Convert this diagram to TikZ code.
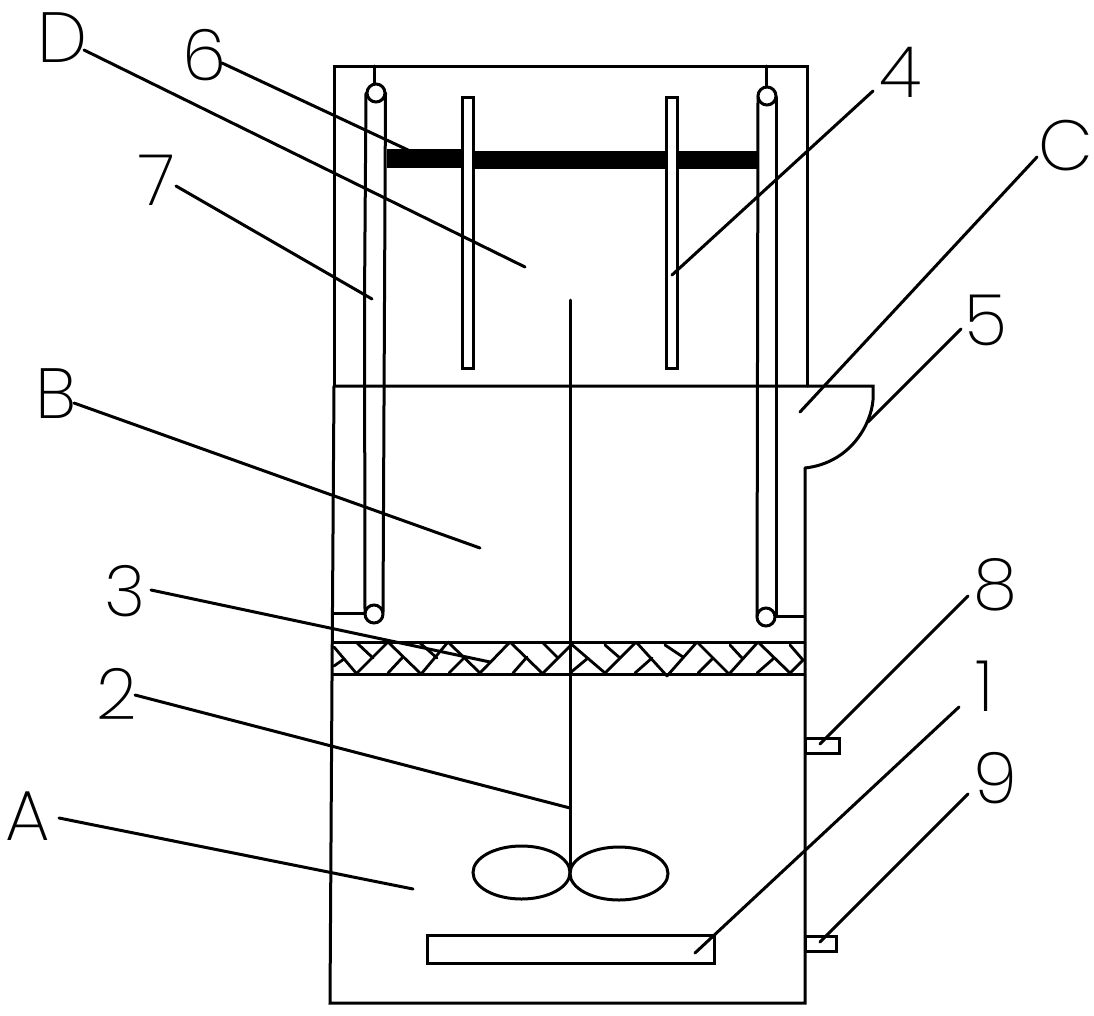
\documentclass[tikz,border=0pt]{standalone}
\usepackage{fontspec}
\newfontfamily\lblfont{Poppins ExtraLight}
\tikzset{
  wall/.style={draw=black,line width=3pt,line cap=round,line join=miter},
  thin wall/.style={draw=black,line width=3pt,line cap=round},
  hatch/.style={draw=black,line width=2.8pt,line cap=round},
  leader/.style={draw=black,line width=3pt,line cap=round},
  plate/.style={draw=black,fill=white,line width=3pt,outer sep=0pt},
  lbl/.style={font=\lblfont\fontsize{71}{71}\selectfont,inner sep=0pt,text=black},
}
\begin{document}
\begin{tikzpicture}[x=1pt,y=-1pt]
\useasboundingbox (0,0) rectangle (1094,1015);
\fill[white] (0,0) rectangle (1094,1015);
% outer body
\draw[wall] (334,386) -- (334,66) -- (807,66) -- (807,386);
\draw[wall] (334,386) -- (332,680) -- (330,1003) -- (805,1003) -- (805,468);
\draw[wall] (334,386) -- (873,386) -- (873,400) .. controls (871,425) and (850,463) .. (805,468);
% bar
\fill[black] (387,149) rectangle (464,168);
\fill[black] (472,151) rectangle (757,168.5);
% plates
\node[plate,minimum width=11pt,minimum height=271pt,inner sep=0pt,anchor=north west] (plateL) at (462.5,97.5) {};
\node[plate,minimum width=11pt,minimum height=271pt,inner sep=0pt,anchor=north west] (plateR) at (666,97.5) {};
% shaft
\coordinate (shaftTop) at (570,300);
\coordinate (shaftEnd) at (570,868);
\draw[thin wall] (shaftTop) -- (shaftEnd);
% left rod
\draw[wall] (366,93) -- (364.5,300) -- (365,612);
\draw[wall] (385.5,93) -- (383,612);
\draw[wall,fill=white] (376,93) circle[radius=9];
\draw[wall,fill=white] (374,614) circle[radius=9];
\draw[wall] (374,66) -- (374,84);
\draw[wall] (334,613) -- (365,613);
% right rod
\draw[wall] (758,97) -- (757,616);
\draw[wall] (776,97) -- (776,616);
\draw[wall,fill=white] (767,96) circle[radius=9];
\draw[wall,fill=white] (766,617) circle[radius=9];
\draw[wall] (766,66) -- (766,87);
\draw[wall] (776,616) -- (804,616);
% porous layer
\draw[wall] (333,642) -- (804,642);
\draw[wall] (333,674) -- (804,674);
\foreach \a/\b/\c/\d in {334/647/356/673,334/666/344/659,357/643/373/658,357/673/388/642,388/642/420/673,388/673/402/658,
 420/643/437/658,422/673/448/642,448/642/480/673,449/673/464/658,480/673/510/642,510/642/542/673,513/673/527/657,
 543/643/558/658,543/673/571/645,570/643/605/673,570/673/588/658,605/645/620/658,605/673/635/643,637/643/667/676,
 635/673/652/658,665/645/683/657,667/676/697/642,697/642/728/673,698/673/713/658,730/645/742/658,730/673/758/642,
 758/642/790/673,757/673/773/659,790/645/803/660,790/673/803/660}
  \draw[hatch] (\a,\b) -- (\c,\d);
% impeller
\draw[wall] (521.5,872.5) ellipse[x radius=48.5,y radius=26.5];
\draw[wall] (619,873.5) ellipse[x radius=49,y radius=26.5];
% boxes
\draw[wall] (427,935) rectangle (714,963);
\draw[wall] (805,738) rectangle (839,753);
\draw[wall] (805,936) rectangle (836,951);
% labels
\node[lbl] (lD) at (62,38) {D};
\node[lbl] (l6) at (205,55) {6};
\node[lbl] (l7) at (157,180) {7};
\node[lbl] (l4) at (901,72) {4};
\node[lbl] (lC) at (1066,146) {C};
\node[lbl] (l5) at (986,320) {5};
\node[lbl] (lB) at (56,394) {B};
\node[lbl] (l3) at (125,591) {3};
\node[lbl] (l2) at (117,694) {2};
\node[lbl] (lA) at (28,816) {A};
\node[lbl] (l8) at (995,585) {8};
\node[lbl] (l1) at (985,686) {1};
\node[lbl] (l9) at (995,778) {9};
% leader ends
\foreach \n/\a/\b/\c/\d in {D/84/50/525/267,6/222/63/408/150,7/176/186/372/299,4/873/91/672/275,C/1037/157/800/412,
 5/961/329/868/422,B/74/403/480/548,3/151/590/490/662,2/135/695/570/808,A/59/818/413/889,8/968/596/820/744,
 1/959/707/695/953,9/968/794/820/942}{
  \coordinate (s\n) at (\a,\b);
  \coordinate (t\n) at (\c,\d);
  \draw[leader] (s\n) -- (t\n);
}
\end{tikzpicture}
\end{document}
